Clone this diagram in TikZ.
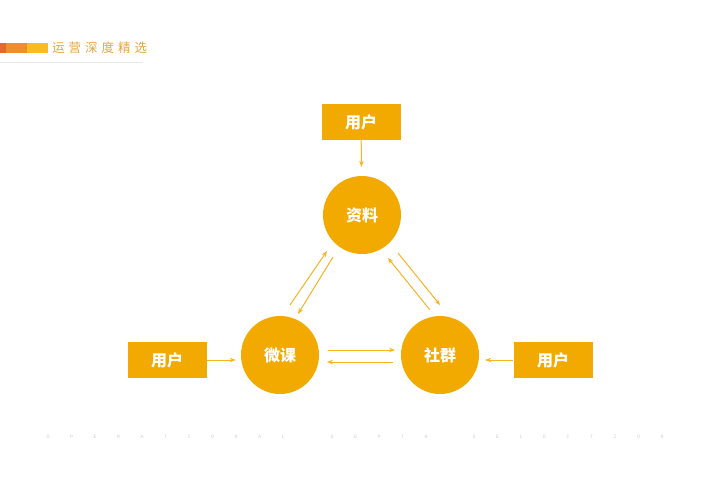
\documentclass[tikz,border=0pt]{standalone}
\usepackage{fontspec}
\newfontfamily\cjk{Noto Sans CJK SC}
\newfontfamily\cjkhead[LetterSpace=32]{Noto Sans CJK SC}
\newfontfamily\monowide[LetterSpace=410]{Liberation Mono}
\usetikzlibrary{arrows.meta}

\definecolor{gold}{HTML}{F2A900}
\definecolor{linegold}{HTML}{F4B424}
\definecolor{headgold}{HTML}{E6A443}
\definecolor{barred}{HTML}{E4692C}
\definecolor{barorange}{HTML}{EF8D2C}
\definecolor{baryellow}{HTML}{F9BA22}
\definecolor{rulegray}{HTML}{E8E8E8}
\definecolor{footgray}{HTML}{D0D0D0}

\begin{document}
\begin{tikzpicture}[>={Stealth[length=6pt,width=4.5pt]}, x=1pt, y=-1pt,
  user/.style={rectangle, fill=gold, text=white, minimum width=79pt,
    minimum height=36pt, inner sep=0pt, font=\cjk\bfseries\fontsize{16}{19}\selectfont},
  hub/.style={circle, fill=gold, text=white, minimum size=78pt,
    inner sep=0pt, font=\cjk\bfseries\fontsize{16}{19}\selectfont},
  link/.style={draw=linegold, line width=1pt}]
  \useasboundingbox (0,0) rectangle (720,478);

  % The header bar
  \fill [barred] (0,43) rectangle (6,53);
  \fill [barorange] (6,43) rectangle (27,53);
  \fill [baryellow] (27,43) rectangle (48,53);
  % The header title
  \node [anchor=west, inner sep=0pt, text=headgold,
    font=\cjkhead\fontsize{12.5}{14}\selectfont] (title) at (52,48) {运营深度精选};
  % The rule under the header
  \coordinate (rl) at (0,62);
  \coordinate (rr) at (143,62);
  \draw [rulegray, line width=0.8pt] (rl) -- (rr);

  % The three hubs
  \node [hub] (zl) at (362,215) {资料};
  \node [hub] (wk) at (280,355) {微课};
  \node [hub] (sq) at (440,355) {社群};

  % The users
  \node [user] (utop) at (361,122) {用户};
  \node [user] (uleft) at (167,360) {用户};
  \node [user] (uright) at (553,360) {用户};

  % Users into the hubs
  \draw [link, ->, shorten >=9pt] (utop) -- (zl);
  \draw [link, ->, shorten >=5pt] (uleft.east) -- (uleft.east -| wk.west);
  \draw [link, ->, shorten >=6pt] (uright.west) -- (uright.west -| sq.east);

  % Between the hubs
  \coordinate (wkzl-a) at (290,305);
  \coordinate (wkzl-b) at (327,251);
  \coordinate (zlwk-a) at (333,257);
  \coordinate (zlwk-b) at (298,314);
  \coordinate (zlsq-a) at (398,253);
  \coordinate (zlsq-b) at (440,305);
  \coordinate (sqzl-a) at (430,310);
  \coordinate (sqzl-b) at (388,258);
  \coordinate (wksq-a) at (328,350);
  \coordinate (wksq-b) at (395,350);
  \coordinate (sqwk-a) at (393,362);
  \coordinate (sqwk-b) at (327,362);
  \draw [link, ->] (wkzl-a) -- (wkzl-b);
  \draw [link, ->] (zlwk-a) -- (zlwk-b);
  \draw [link, ->] (zlsq-a) -- (zlsq-b);
  \draw [link, ->] (sqzl-a) -- (sqzl-b);
  \draw [link, ->] (wksq-a) -- (wksq-b);
  \draw [link, ->] (sqwk-a) -- (sqwk-b);

  % The footer
  \node [anchor=west, inner sep=0pt, text=footgray,
    font=\monowide\fontsize{5}{6}\selectfont] (f1) at (46.5,437) {OPERATIONAL};
  \node [anchor=west, inner sep=0pt, text=footgray,
    font=\monowide\fontsize{5}{6}\selectfont] (f2) at (330.5,437) {DEPTH};
  \node [anchor=west, inner sep=0pt, text=footgray,
    font=\monowide\fontsize{5}{6}\selectfont] (f3) at (472.5,437) {SELECTION};
\end{tikzpicture}
\end{document}
